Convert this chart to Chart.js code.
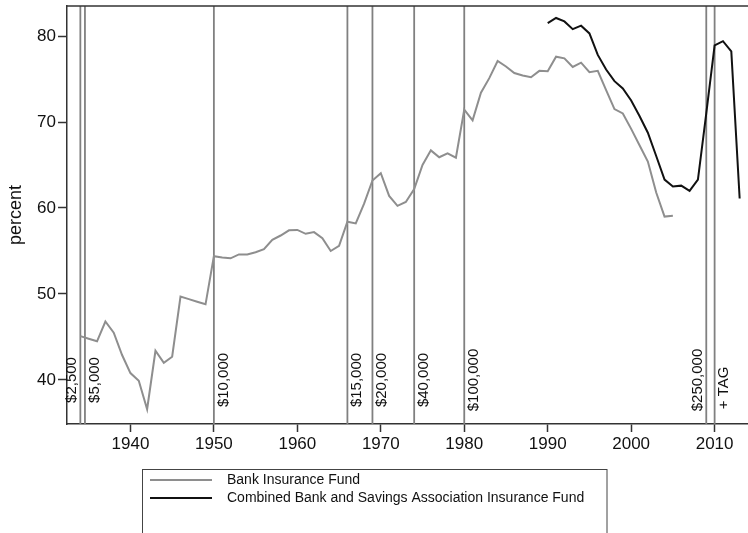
<!DOCTYPE html>
<html>
<head>
<meta charset="utf-8">
<script src="https://cdn.jsdelivr.net/npm/chart.js@4.4.1/dist/chart.umd.min.js"></script>
<style>
    html, body { margin: 0; padding: 0; background: #fff; }
</style>
</head>
<body>
<canvas id="fundCtx" width="748" height="533"></canvas>
<script>
// Bank Insurance Fund, one value per year from 1934
const bifStartYear = 1934;
const bifValues = [
    45.1, 44.8, 44.5, 46.8, 45.5, 42.9, 40.8, 39.9, 36.6, 43.4,
    42.0, 42.7, 49.7, 49.4, 49.1, 48.8, 54.4, 54.25, 54.15, 54.6,
    54.6, 54.85, 55.2, 56.3, 56.8, 57.4, 57.45, 57.0, 57.2, 56.5,
    55.0, 55.6, 58.4, 58.2, 60.5, 63.2, 64.05, 61.4, 60.25, 60.7,
    62.2, 65.0, 66.7, 65.9, 66.35, 65.85, 71.45, 70.2, 73.4, 75.1,
    77.1, 76.45, 75.7, 75.4, 75.2, 75.95, 75.9, 77.6, 77.4, 76.4,
    76.9, 75.8, 75.95, 73.7, 71.5, 71.0, 69.2, 67.3, 65.4, 61.8,
    59.0, 59.1
];

// Combined Bank and Savings Association Insurance Fund, from 1990
const combinedStartYear = 1990;
const combinedValues = [
    81.5, 82.1, 81.7, 80.8, 81.2, 80.3, 77.8, 76.1, 74.75, 73.9,
    72.5, 70.7, 68.75, 66.05, 63.3, 62.5, 62.6, 62.0, 63.3, 71.0,
    78.9, 79.4, 78.2, 61.1
];

const seriesNames = ['Bank Insurance Fund', 'Combined Bank and Savings Association Insurance Fund'];

const xTicks = [1940, 1950, 1960, 1970, 1980, 1990, 2000, 2010];
const yTicks = [40, 50, 60, 70, 80];

// coverage limit changes
const limitYears = [1934, 1934.55, 1950, 1966, 1969, 1974, 1980, 2009, 2010];
const limitLabels = ['$2,500', '$5,000', '$10,000', '$15,000', '$20,000', '$40,000', '$100,000', '$250,000', '+ TAG'];
const limitLabelSide = ['left', 'right', 'right', 'right', 'right', 'right', 'right', 'left', 'right'];

const FONT = '"Liberation Sans", Arial, Helvetica, sans-serif';
const GRAY = '#8e8e8e';
const AXIS = '#333';

function toPoints(start, values) {
    return values.map((v, i) => ({ x: start + i, y: v }));
}

// keep chart.js from reserving room for half tick labels
function noEdgePadding(s) {
    s.paddingTop = 0;
    s.paddingBottom = 0;
    s.paddingLeft = 0;
    s.paddingRight = 0;
}

const refLines = {
    id: 'refLines',
    beforeDatasetsDraw(chart) {
        const { ctx, chartArea, scales } = chart;
        ctx.save();
        ctx.strokeStyle = '#808080';
        ctx.lineWidth = 1.8;
        limitYears.forEach(yr => {
            const px = scales.x.getPixelForValue(yr);
            ctx.beginPath();
            ctx.moveTo(px, chartArea.top);
            ctx.lineTo(px, chartArea.bottom);
            ctx.stroke();
        });

        // labels, reading upward, centred on 40
        ctx.fillStyle = '#111';
        ctx.font = '15px ' + FONT;
        ctx.textAlign = 'center';
        const cy = scales.y.getPixelForValue(40);
        limitYears.forEach((yr, i) => {
            const px = scales.x.getPixelForValue(yr);
            const left = limitLabelSide[i] === 'left';
            ctx.save();
            ctx.translate(left ? px - 1 : px + 2, cy + (limitLabels[i] === '+ TAG' ? 8 : 0));
            ctx.rotate(-Math.PI / 2);
            ctx.textBaseline = left ? 'bottom' : 'top';
            ctx.fillText(limitLabels[i], 0, 0);
            ctx.restore();
        });

        // top frame line
        ctx.strokeStyle = AXIS;
        ctx.lineWidth = 1.5;
        ctx.beginPath();
        ctx.moveTo(chartArea.left, chartArea.top);
        ctx.lineTo(chartArea.right, chartArea.top);
        ctx.stroke();
        ctx.restore();
    }
};

const boxLegend = {
    id: 'boxLegend',
    afterDraw(chart) {
        const ctx = chart.ctx;
        ctx.save();
        ctx.strokeStyle = '#444';
        ctx.lineWidth = 1;
        ctx.strokeRect(142.5, 469.5, 464.5, 90);

        const colors = [GRAY, '#111'];
        ctx.font = '14px ' + FONT;
        ctx.fillStyle = '#111';
        ctx.textBaseline = 'middle';
        seriesNames.forEach((name, i) => {
            const y = 480 + i * 18;
            ctx.strokeStyle = colors[i];
            ctx.lineWidth = 2;
            ctx.beginPath();
            ctx.moveTo(150, y);
            ctx.lineTo(212, y);
            ctx.stroke();
            ctx.fillText(name, 227, y);
        });
        ctx.restore();
    }
};

new Chart(document.getElementById('fundCtx'), {
    type: 'line',
    data: {
        datasets: [{
            label: seriesNames[0],
            data: toPoints(bifStartYear, bifValues),
            borderColor: GRAY,
            borderWidth: 2,
            pointRadius: 0,
            tension: 0
        },
        {
            label: seriesNames[1],
            data: toPoints(combinedStartYear, combinedValues),
            borderColor: '#111',
            borderWidth: 2,
            pointRadius: 0,
            tension: 0
        }]
    },
    options: {
        responsive: false,
        animation: false,
        layout: { padding: { top: 6, right: 0, bottom: 79, left: 0 } },
        plugins: {
            legend: { display: false },
            tooltip: { enabled: false }
        },
        scales: {
            x: {
                type: 'linear',
                min: 1932.4,
                max: 2014,
                afterBuildTicks: s => { s.ticks = xTicks.map(v => ({ value: v })); },
                afterFit: s => { s.height = 30; noEdgePadding(s); },
                grid: { drawOnChartArea: false, drawTicks: true, tickLength: 8, tickColor: AXIS, tickWidth: 1.5 },
                border: { color: AXIS, width: 1.5 },
                ticks: {
                    color: '#111',
                    font: { family: FONT, size: 17 },
                    padding: 2,
                    maxRotation: 0,
                    autoSkip: false,
                    callback: v => String(v)
                }
            },
            y: {
                min: 34.88,
                max: 83.49,
                afterBuildTicks: s => { s.ticks = yTicks.map(v => ({ value: v })); },
                afterFit: s => { s.width = 67; noEdgePadding(s); },
                grid: { drawOnChartArea: false, drawTicks: true, tickLength: 9, tickColor: AXIS, tickWidth: 1.5 },
                border: { color: AXIS, width: 1.5 },
                title: {
                    display: true,
                    text: 'percent',
                    color: '#111',
                    font: { family: FONT, size: 18 },
                    padding: { top: 5, bottom: 0 }
                },
                ticks: {
                    color: '#111',
                    font: { family: FONT, size: 17 },
                    padding: 2
                }
            }
        }
    },
    plugins: [refLines, boxLegend]
});
</script>
</body>
</html>
